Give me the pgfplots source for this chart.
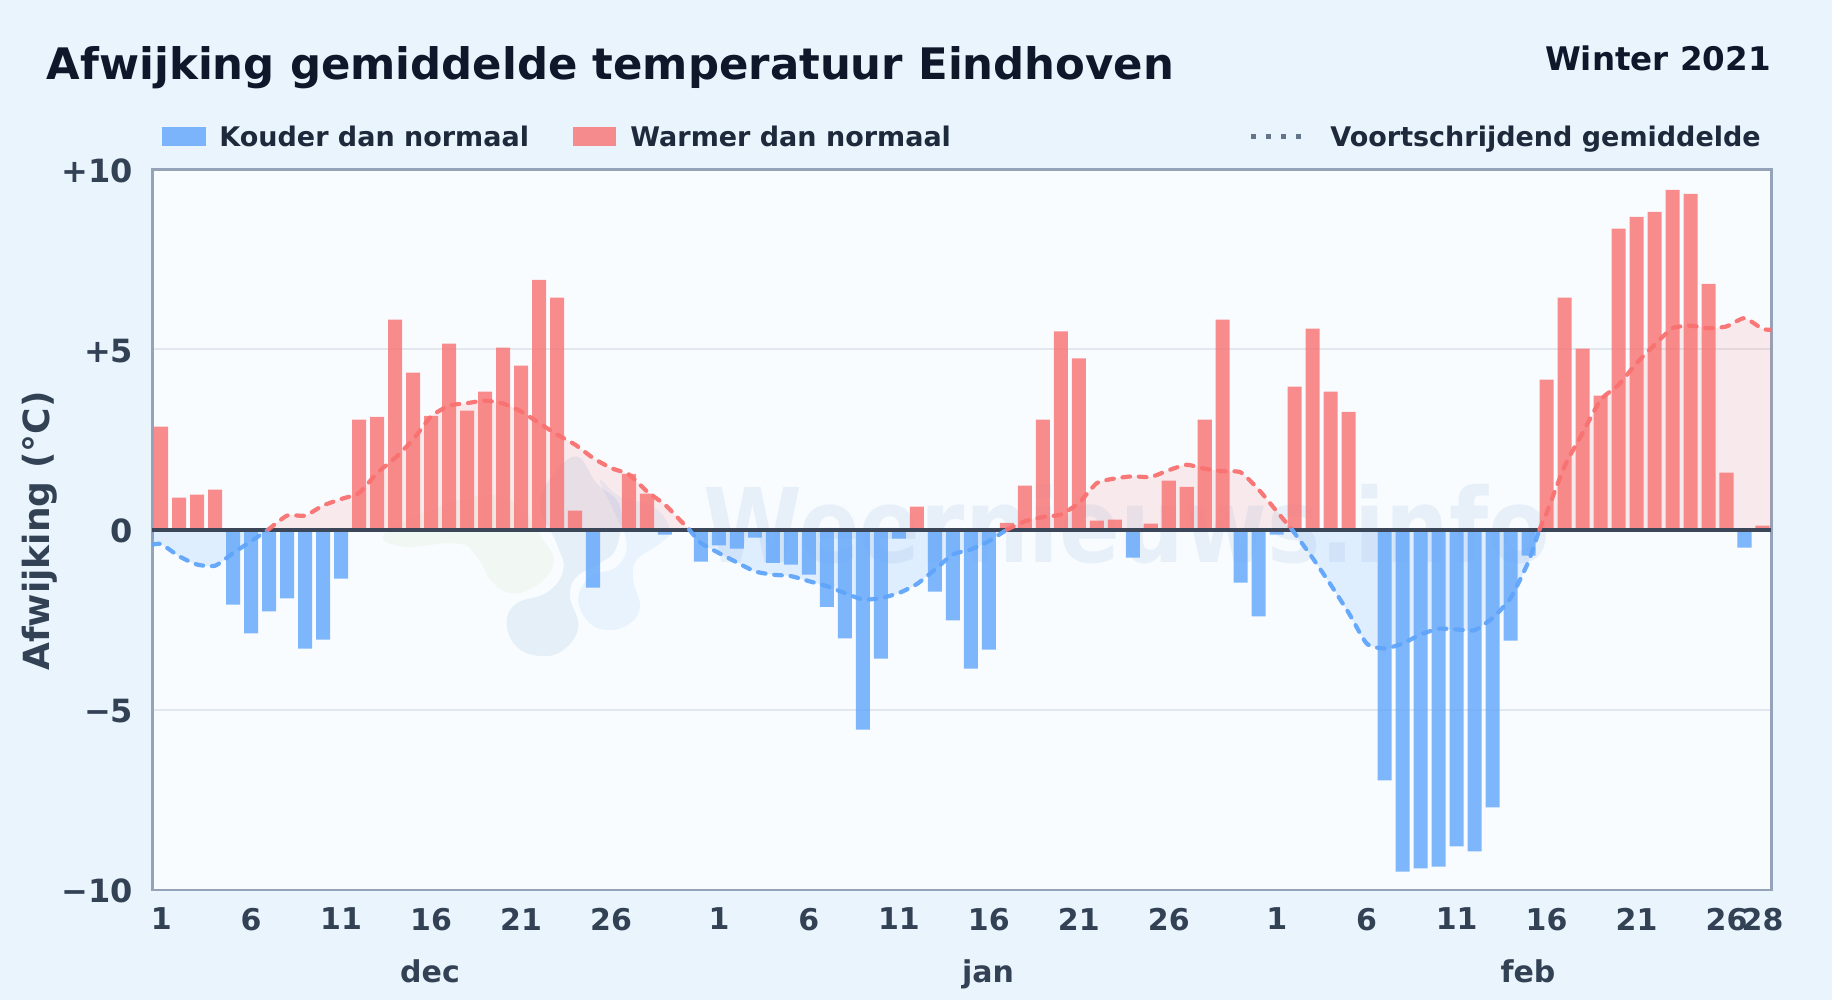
\documentclass[border=0pt]{standalone}
\usepackage{fontspec}
\setmainfont{DejaVu Sans}
\usepackage{pgfplots}
\pgfplotsset{compat=1.18}
\usepackage{pgfplotstable}

\definecolor{pagebg}{HTML}{E9F4FD}
\definecolor{plotbg}{HTML}{F8FCFF}
\definecolor{frame}{HTML}{94A3B8}
\definecolor{gridc}{HTML}{E2E8F0}
\definecolor{zeroc}{HTML}{3B4659}
\definecolor{axtext}{HTML}{334155}
\definecolor{legtext}{HTML}{1E293B}
\definecolor{titletext}{HTML}{0F172A}
\definecolor{coldc}{HTML}{60A5FA}
\definecolor{warmc}{HTML}{F87171}
\definecolor{dotc}{HTML}{64748B}
\definecolor{logoa}{HTML}{3F7FBF}
\definecolor{logog}{HTML}{B5D88A}

% moving average, split where it crosses zero
\pgfplotstableread{
x y
0.5 -0.42
1 -0.40
2 -0.74
3 -0.97
4 -1.00
5 -0.65
6 -0.32
6.95 0
}\segA
\pgfplotstableread{
x y
6.95 0
8 0.39
9 0.39
10 0.67
11 0.85
12 1.02
13 1.57
14 1.99
15 2.50
16 3.14
17 3.44
18 3.51
19 3.58
20 3.50
21 3.28
22 2.96
23 2.64
24 2.36
25 1.99
26 1.71
27 1.53
28 1.06
29 0.69
30 0.18
30.35 0
}\segB
\pgfplotstableread{
x y
30.35 0
31 -0.37
32 -0.65
33 -0.91
34 -1.16
35 -1.25
36 -1.29
37 -1.43
38 -1.57
39 -1.76
40 -1.94
41 -1.90
42 -1.76
43 -1.51
44 -1.11
45 -0.69
46 -0.55
47 -0.32
48 0
}\segC
\pgfplotstableread{
x y
48 0
49 0.23
50 0.35
51 0.42
52 0.74
53 1.29
54 1.42
55 1.48
56 1.46
57 1.65
58 1.80
59 1.69
60 1.62
61 1.59
62 1.11
63 0.51
63.85 0
}\segD
\pgfplotstableread{
x y
63.85 0
65 -0.79
66 -1.53
67 -2.31
68 -3.16
69 -3.30
70 -3.16
71 -2.91
72 -2.75
73 -2.77
74 -2.79
75 -2.45
76 -1.90
77 -0.88
77.6 0
}\segE
\pgfplotstableread{
x y
77.6 0
78 0.46
79 1.76
80 2.68
81 3.60
82 4.02
83 4.62
84 5.13
85 5.59
86 5.66
87 5.59
88 5.64
89 5.87
90 5.57
90.5 5.55
}\segF

\pgfplotsset{
  barstyle/.style={ybar,bar width=0.78,bar shift=0pt,draw=none,fill opacity=0.8},
  areastyle/.style={draw=none,fill=#1,fill opacity=0.13,smooth,tension=0.35,forget plot},
  linestyle/.style={draw=#1,draw opacity=0.95,line width=2.1pt,line cap=round,
    dash pattern=on 3.8pt off 4.4pt,smooth,tension=0.35,forget plot},
}

\begin{document}
\begin{tikzpicture}
\useasboundingbox (0,0) rectangle (916pt,500pt);
\fill[pagebg] (0,0) rectangle (916pt,500pt);

% coordinates in pixels of the 1832x1000 picture
\begin{scope}[x=0.5pt,y=-0.5pt,yshift=500pt]
\fill[plotbg] (152.2,169.3) rectangle (1771.5,890);
\node[anchor=base west,inner sep=0,text=titletext] at (46.5,80)
  {\fontsize{21.7}{25}\selectfont\bfseries Afwijking gemiddelde temperatuur Eindhoven};
\node[anchor=base east,inner sep=0,text=titletext] at (1771,71)
  {\fontsize{16.25}{18}\selectfont\bfseries Winter 2021};
\fill[coldc,opacity=0.8] (162,127) rectangle (206,146);
\node[anchor=base west,inner sep=0,text=legtext] at (219,147)
  {\fontsize{13.5}{16}\selectfont\bfseries Kouder dan normaal};
\fill[warmc,opacity=0.8] (573,127) rectangle (616,146);
\node[anchor=base west,inner sep=0,text=legtext] at (630,147)
  {\fontsize{13.5}{16}\selectfont\bfseries Warmer dan normaal};
\draw[dotc,line width=2.5pt,dash pattern=on 2.5pt off 5pt] (1251,136.7) -- (1307,136.7);
\node[anchor=base west,inner sep=0,text=legtext] at (1330,147)
  {\fontsize{13.5}{16}\selectfont\bfseries Voortschrijdend gemiddelde};
% watermark
\node[anchor=base west,inner sep=0,text=logoa,opacity=0.09,xscale=0.871] at (703,563)
  {\fontsize{51.5}{60}\selectfont\bfseries Weernieuws.info};
\node[anchor=base,text=axtext,inner sep=0] at (430,983) {\fontsize{15}{17}\selectfont\bfseries dec};
\node[anchor=base,text=axtext,inner sep=0] at (988,983) {\fontsize{15}{17}\selectfont\bfseries jan};
\node[anchor=base,text=axtext,inner sep=0] at (1528,983) {\fontsize{15}{17}\selectfont\bfseries feb};
\end{scope}

% faint logo behind the bars, in units of a third of a pixel from (360,400)
\begin{scope}[shift={(180pt,300pt)},x=0.16667pt,y=-0.16667pt]
\fill[logog,opacity=0.10] plot[smooth cycle,tension=0.7] coordinates
  {(80,395) (130,440) (290,430) (350,470) (400,550) (470,580) (550,540) (580,480) (550,420) (450,300) (300,300)};
\fill[logoa,opacity=0.10] plot[smooth cycle,tension=0.7] coordinates
  {(440,670) (470,610) (560,578) (610,510) (590,430) (540,300) (640,170) (710,250) (780,320) (770,440) (720,490) (650,530) (630,590) (655,680) (610,750) (540,768) (470,740)};
\fill[coldc,opacity=0.10] plot[smooth cycle,tension=0.7] coordinates
  {(655,600) (690,530) (770,500) (800,430) (760,330) (720,240) (780,290) (880,320) (930,390) (900,430) (830,480) (820,540) (840,620) (810,670) (750,690) (690,670)};
\end{scope}

\begin{axis}[
  at={(76.1pt,55pt)},anchor=south west,
  scale only axis,width=809.65pt,height=360.35pt,
  xmin=0.5,xmax=90.5,ymin=-10,ymax=10,
  axis line style={frame,line width=1.3pt},
  major tick length=0pt,
  xtick={1,6,11,16,21,26,32,37,42,47,52,57,63,68,73,78,83,88,90},
  xticklabels={1,6,11,16,21,26,1,6,11,16,21,26,1,6,11,16,21,26,28},
  ytick={-10,-5,0,5,10},
  yticklabels={−10,−5,0,+5,+10},
  tick label style={text=axtext},
  xticklabel style={font=\fontsize{15}{17}\selectfont\bfseries,yshift=-5.5pt},
  yticklabel style={font=\fontsize{16}{18}\selectfont\bfseries,xshift=-6pt,yshift=-0.6pt},
  ylabel={Afwijking (°C)},
  ylabel style={font=\fontsize{18}{20}\selectfont\bfseries,text=axtext,
    at={(axis description cs:-0.0695,0.498)},anchor=center},
  ymajorgrids=true,
  grid style={gridc,line width=1pt},
]
\addplot[areastyle=coldc,fill opacity=0.16] table {\segA}\closedcycle;
\addplot[areastyle=warmc] table {\segB}\closedcycle;
\addplot[areastyle=coldc,fill opacity=0.16] table {\segC}\closedcycle;
\addplot[areastyle=warmc] table {\segD}\closedcycle;
\addplot[areastyle=coldc,fill opacity=0.16] table {\segE}\closedcycle;
\addplot[areastyle=warmc] table {\segF}\closedcycle;

\addplot[barstyle,fill=warmc] coordinates {
(1,2.86)(2,0.89)(3,0.97)(4,1.11)(12,3.05)(13,3.13)(14,5.83)(15,4.36)(16,3.16)(17,5.16)
(18,3.30)(19,3.83)(20,5.05)(21,4.55)(22,6.93)(23,6.44)(24,0.53)(27,1.55)(28,1.00)
(43,0.64)(48,0.19)(49,1.22)(50,3.05)(51,5.50)(52,4.75)(53,0.25)(54,0.28)(56,0.17)
(57,1.36)(58,1.19)(59,3.05)(60,5.83)(64,3.97)(65,5.58)(66,3.83)(67,3.27)
(78,4.16)(79,6.44)(80,5.02)(81,3.72)(82,8.35)(83,8.68)(84,8.82)(85,9.43)(86,9.32)
(87,6.82)(88,1.58)(90,0.11)};
\addplot[barstyle,fill=coldc] coordinates {
(5,-2.08)(6,-2.88)(7,-2.27)(8,-1.91)(9,-3.30)(10,-3.05)(11,-1.36)(25,-1.61)(29,-0.14)
(31,-0.89)(32,-0.44)(33,-0.53)(34,-0.22)(35,-0.92)(36,-0.97)(37,-1.25)(38,-2.14)
(39,-3.02)(40,-5.55)(41,-3.58)(42,-0.25)(44,-1.72)(45,-2.52)(46,-3.86)(47,-3.33)
(55,-0.78)(61,-1.47)(62,-2.41)(63,-0.14)(69,-6.96)(70,-9.49)(71,-9.40)(72,-9.35)
(73,-8.79)(74,-8.93)(75,-7.71)(76,-3.08)(77,-0.72)(89,-0.50)};

\addplot[zeroc,line width=2pt,forget plot] coordinates {(0.5,0)(90.5,0)};

\addplot[linestyle=coldc] table {\segA};
\addplot[linestyle=warmc] table {\segB};
\addplot[linestyle=coldc] table {\segC};
\addplot[linestyle=warmc] table {\segD};
\addplot[linestyle=coldc] table {\segE};
\addplot[linestyle=warmc] table {\segF};
\end{axis}
\end{tikzpicture}
\end{document}
